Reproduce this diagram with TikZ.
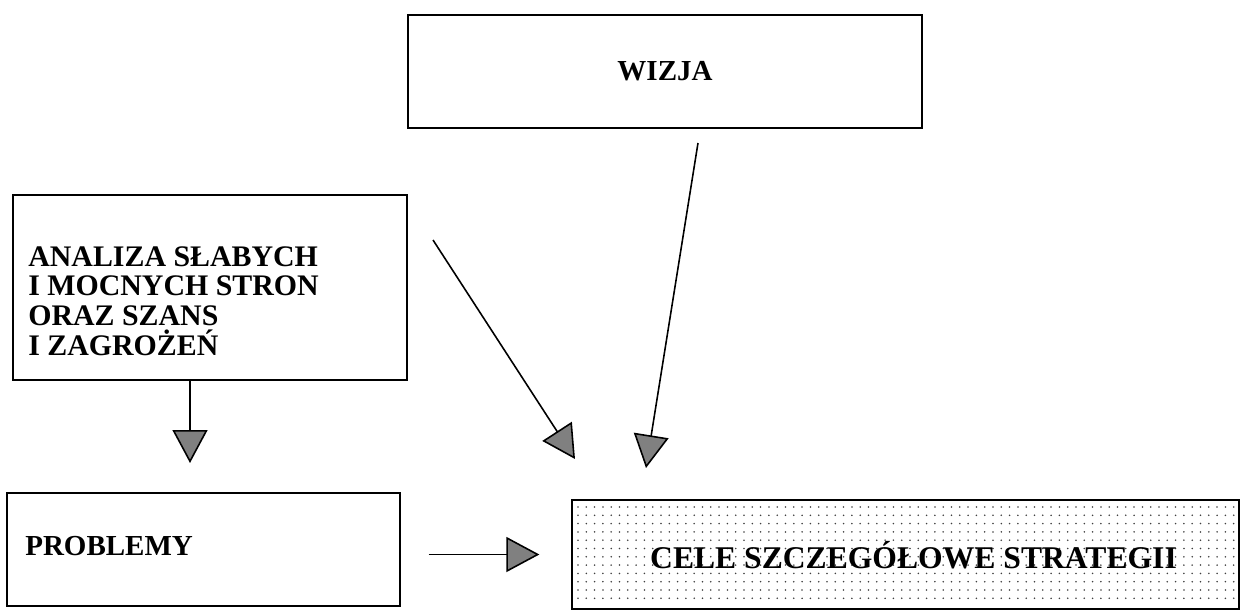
\documentclass[tikz,border=0pt]{standalone}
\usepackage{fontspec}
\setmainfont{Liberation Serif}
\usetikzlibrary{arrows.meta}
\usetikzlibrary{calc}

\begin{document}
\begin{tikzpicture}[x=0.02cm, y=-0.02cm]
                \tikzstyle{box}     = [rectangle, draw, line width=0.8pt, inner sep=0pt]
                \tikzstyle{boxtext} = [font=\bfseries\fontsize{17}{16.9}\selectfont, inner sep=0pt, align=left]
                \tikzstyle{arrow}   = [line width=0.9pt, -{Triangle[length=0.66cm, width=0.7cm, fill=black!50]}]
                \useasboundingbox (0,0) rectangle (1242,613);
                %%Boxes
                \node [box, minimum width=10.28cm, minimum height=2.26cm, font=\bfseries\fontsize{16.5}{18}\selectfont](wizja) at (665, 71.5) {WIZJA};
                \node [box, minimum width=7.88cm, minimum height=3.7cm](swot) at (210, 287.5) {};
                \node [box, minimum width=7.86cm, minimum height=2.26cm](prob) at (203.5, 549.5) {};
                \node [box, minimum width=13.34cm, minimum height=2.18cm](cele) at (905.5, 554.5) {};
                %%Dots in the goals box
                \foreach \x in {578, 586.3, ..., 1236}
                    \foreach \y in {507, 515.3, ..., 604}
                        \fill [black!75] (\x, \y) circle (0.5pt);
                \node [font=\bfseries\fontsize{18}{20}\selectfont, inner sep=0pt](celetxt) at (913.5, 555) {CELE SZCZEGÓŁOWE STRATEGII};
                \node [boxtext, anchor=west](swottxt) at (28, 301) {ANALIZA SŁABYCH\\I MOCNYCH STRON\\ORAZ SZANS\\I ZAGROŻEŃ};
                \node [boxtext, font=\bfseries\fontsize{16.5}{18}\selectfont, anchor=west](probtxt) at (25, 546) {PROBLEMY};
                %%Free ends
                \coordinate (probtop) at (190, 463);
                \coordinate (swotout) at (433, 240);
                \coordinate (swotin) at (575, 459);
                \coordinate (wizjaout) at (698, 143);
                \coordinate (wizjain) at (646, 468);
                %%Arrows
                \draw [arrow] (probtop |- swot.south)--(probtop);
                \draw [arrow, shorten <=0.56cm, shorten >=0.64cm] (prob.east |- cele.west)--(cele.west);
                \draw [arrow] (swotout)--(swotin);
                \draw [arrow] (wizjaout)--(wizjain);
\end{tikzpicture}
\end{document}
